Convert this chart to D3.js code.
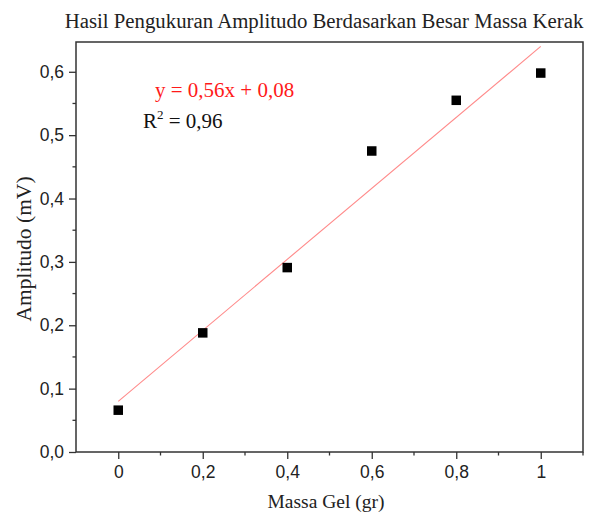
<!DOCTYPE html>
<html>
<head>
<meta charset="utf-8">
<script src="https://cdn.jsdelivr.net/npm/d3@7"></script>
<style>
  body { margin: 0; background: #fff; }
  svg text { fill: #222; }
</style>
</head>
<body>
<div id="chart"></div>
<script>
// measured data
const massaGel = [0, 0.2, 0.4, 0.6, 0.8, 1.0];
const amplitudo = [0.066, 0.188, 0.291, 0.475, 0.555, 0.598];
// linear fit
const fitSlope = 0.56;
const fitIntercept = 0.08;
const fitRange = [0, 1];
const xTicks = [0, 0.2, 0.4, 0.6, 0.8, 1];
const yTicks = [0, 0.1, 0.2, 0.3, 0.4, 0.5, 0.6];

const width = 597, height = 517;
const margin = { top: 42, right: 14, bottom: 65, left: 76 };
const plotW = width - margin.left - margin.right;
const plotH = height - margin.top - margin.bottom;

const comma = d => d3.format(".1f")(d).replace(".", ",");

const svg = d3.select("#chart").append("svg")
    .attr("width", width)
    .attr("height", height);

const g = svg.append("g")
    .attr("transform", `translate(${margin.left},${margin.top})`);

const x = d3.scaleLinear().domain([-0.1, 1.1]).range([0, plotW]);
const y = d3.scaleLinear().domain([0, 0.647]).range([plotH, 0]);

// frame
g.append("rect")
    .attr("width", plotW)
    .attr("height", plotH)
    .attr("fill", "none")
    .attr("stroke", "#333")
    .attr("stroke-width", 1.5);

// minor ticks
const xMinor = d3.range(-0.1, 1.11, 0.2).map(v => +v.toFixed(2)).filter(v => v > -0.1);
g.selectAll(".xminor")
    .data(xMinor)
    .enter().append("line")
    .attr("x1", d => x(d)).attr("x2", d => x(d))
    .attr("y1", plotH).attr("y2", plotH + 3.5)
    .attr("stroke", "#333").attr("stroke-width", 1.3);

const yMinor = d3.range(0.05, 0.646, 0.1);
g.selectAll(".yminor")
    .data(yMinor)
    .enter().append("line")
    .attr("x1", 0).attr("x2", -3.5)
    .attr("y1", d => y(d)).attr("y2", d => y(d))
    .attr("stroke", "#333").attr("stroke-width", 1.3);

// axes
const xAxis = g.append("g")
    .attr("transform", `translate(0,${plotH})`)
    .call(d3.axisBottom(x).tickValues(xTicks).tickSize(7).tickPadding(7)
        .tickFormat(d => d === 0 || d === 1 ? String(d) : comma(d)));

const yAxis = g.append("g")
    .call(d3.axisLeft(y).tickValues(yTicks).tickSize(7).tickPadding(5)
        .tickFormat(comma));

[xAxis, yAxis].forEach(a => {
    a.select(".domain").remove();
    a.selectAll(".tick line").attr("stroke", "#333").attr("stroke-width", 1.3);
    a.selectAll(".tick text")
        .attr("fill", "#222")
        .style("font-family", "'Liberation Sans', Arial, sans-serif")
        .style("font-size", "17.5px");
});

// fit line
const fitLine = d3.line()
    .x(d => x(d))
    .y(d => y(fitSlope * d + fitIntercept));

g.append("path")
    .datum(fitRange)
    .attr("d", fitLine)
    .attr("fill", "none")
    .attr("stroke", "#ff8a8a")
    .attr("stroke-width", 1.1);

// points
const sq = 9.5;
g.selectAll(".pt")
    .data(massaGel.map((m, i) => ({ m, a: amplitudo[i] })))
    .enter().append("rect")
    .attr("x", d => x(d.m) - sq / 2)
    .attr("y", d => y(d.a) - sq / 2)
    .attr("width", sq)
    .attr("height", sq)
    .attr("fill", "#000");

// equation
const serif = "'Liberation Serif', 'Times New Roman', serif";
svg.append("text")
    .attr("x", 155)
    .attr("y", 97)
    .style("font-family", serif)
    .style("font-size", "21px")
    .style("fill", "#ff1a1a")
    .text(`y = ${String(fitSlope).replace(".", ",")}x + ${String(fitIntercept).replace(".", ",")}`);

const r2 = svg.append("text")
    .attr("x", 143)
    .attr("y", 128)
    .style("font-family", serif)
    .style("font-size", "21px")
    .style("fill", "#111");
r2.append("tspan").text("R");
r2.append("tspan").attr("dy", -9).style("font-size", "13px").text("2");
r2.append("tspan").attr("dy", 9).text(" = 0,96");

// titles
svg.append("text")
    .attr("x", 324)
    .attr("y", 28)
    .attr("text-anchor", "middle")
    .style("font-family", serif)
    .style("font-size", "20.8px")
    .text("Hasil Pengukuran Amplitudo Berdasarkan Besar Massa Kerak");

svg.append("text")
    .attr("x", 326)
    .attr("y", 508)
    .attr("text-anchor", "middle")
    .style("font-family", serif)
    .style("font-size", "19.5px")
    .text("Massa Gel (gr)");

svg.append("text")
    .attr("transform", `translate(31,249) rotate(-90)`)
    .attr("text-anchor", "middle")
    .style("font-family", serif)
    .style("font-size", "21.5px")
    .text("Amplitudo (mV)");
</script>
</body>
</html>
